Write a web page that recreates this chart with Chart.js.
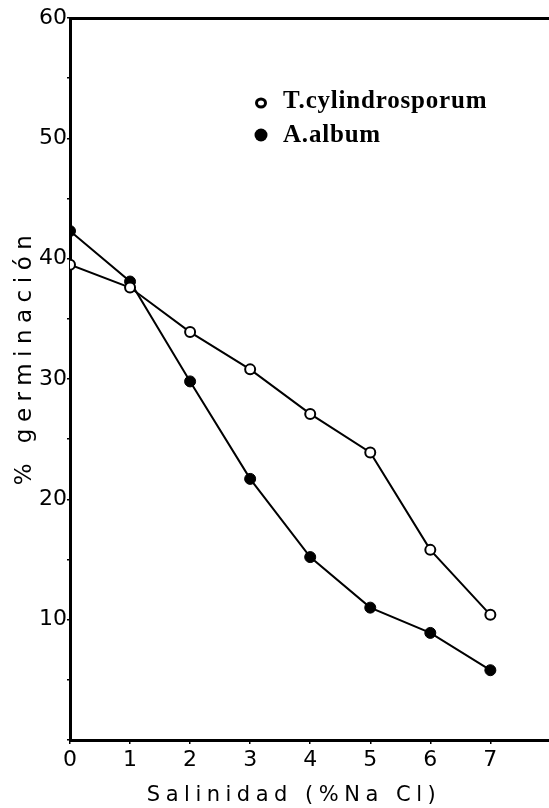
<!DOCTYPE html>
<html>
<head>
<meta charset="utf-8">
<script src="https://cdn.jsdelivr.net/npm/chart.js@4.4.1/dist/chart.umd.min.js"></script>
<style>
	html, body { margin: 0; padding: 0; background: #fff; overflow: hidden; }
	#wrap { width: 549px; height: 808px; }
	canvas { display: block; }
</style>
</head>
<body>
<div id="wrap"><canvas id="germChart" width="549" height="808"></canvas></div>
<script>
// Data
const salinidad = [0, 1, 2, 3, 4, 5, 6, 7];
const tCylindrosporum = [39.5, 37.6, 33.9, 30.8, 27.1, 23.9, 15.8, 10.4];
const aAlbum = [42.3, 38.1, 29.8, 21.7, 15.2, 11.0, 8.9, 5.8];
const seriesLabels = ['T.cylindrosporum', 'A.album'];
const xTickValues = [0, 1, 2, 3, 4, 5, 6, 7];
const yTickValues = [0, 5, 10, 15, 20, 25, 30, 35, 40, 45, 50, 55, 60];
const yTickLabels = [10, 20, 30, 40, 50, 60];
const xTitle = 'Salinidad (%Na Cl)';
const yTitle = '% germinación';

(function() {
	'use strict';

	const tickFont = { family: 'DejaVu Sans', size: 22 };

	/**
	 * Frame lines running to the page edge, axis titles and the inset legend
	 */
	const figureDecor = {
		id: 'figureDecor',
		afterDatasetsDraw: function(chart) {
			const ctx = chart.ctx;
			const area = chart.chartArea;
			ctx.save();

			// top frame line and the tail of the x axis, out to the edge
			ctx.strokeStyle = '#000';
			ctx.lineWidth = 3;
			ctx.beginPath();
			ctx.moveTo(area.left - 1, Math.round(area.top) + 0.5);
			ctx.lineTo(chart.width, Math.round(area.top) + 0.5);
			ctx.moveTo(area.right - 2, Math.round(area.bottom) + 0.5);
			ctx.lineTo(chart.width, Math.round(area.bottom) + 0.5);
			ctx.stroke();

			// x title
			ctx.fillStyle = '#000';
			ctx.font = '21px "DejaVu Sans"';
			ctx.letterSpacing = '5.5px';
			ctx.textAlign = 'center';
			ctx.textBaseline = 'alphabetic';
			ctx.fillText(xTitle, 294, 801);

			// y title, reads bottom to top
			ctx.save();
			ctx.translate(31, 357);
			ctx.rotate(-Math.PI / 2);
			ctx.font = '23px "DejaVu Sans"';
			ctx.letterSpacing = '6.5px';
			ctx.fillText(yTitle, 0, 0);
			ctx.restore();

			// legend
			const rows = [
				{ label: seriesLabels[0], filled: false, cy: 103, base: 108 },
				{ label: seriesLabels[1], filled: true, cy: 135, base: 142 }
			];
			ctx.font = 'bold 25px "Liberation Serif"';
			ctx.letterSpacing = '0.8px';
			ctx.textAlign = 'left';
			rows.forEach(function(r) {
				ctx.beginPath();
				if (r.filled) {
					ctx.arc(261, r.cy, 6.5, 0, Math.PI * 2);
					ctx.fill();
				} else {
					ctx.lineWidth = 3;
					ctx.ellipse(261, r.cy, 4.5, 4, 0, 0, Math.PI * 2);
					ctx.stroke();
				}
				ctx.fillText(r.label, 283, r.base);
			});

			ctx.restore();
		}
	};

	new Chart(document.getElementById('germChart'), {
		type: 'line',
		data: {
			datasets: [{
				label: seriesLabels[0],
				data: salinidad.map((x, i) => ({ x: x, y: tCylindrosporum[i] })),
				borderColor: '#000',
				borderWidth: 2,
				pointRadius: 5,
				pointBorderWidth: 2,
				pointBackgroundColor: '#fff',
				pointBorderColor: '#000',
				tension: 0
			}, {
				label: seriesLabels[1],
				data: salinidad.map((x, i) => ({ x: x, y: aAlbum[i] })),
				borderColor: '#000',
				borderWidth: 2,
				pointRadius: 5.5,
				pointBorderWidth: 1,
				pointBackgroundColor: '#000',
				pointBorderColor: '#000',
				tension: 0
			}]
		},
		options: {
			responsive: false,
			animation: false,
			devicePixelRatio: 1,
			layout: { padding: { top: 18, right: 0, left: 0, bottom: 0 } },
			plugins: {
				legend: { display: false },
				tooltip: { enabled: false }
			},
			scales: {
				x: {
					type: 'linear',
					min: 0,
					max: 7.86,
					afterFit: function(scale) {
						scale.height = 68;
						scale.paddingLeft = 0;
						scale.paddingRight = 0;
					},
					afterBuildTicks: function(scale) {
						scale.ticks = xTickValues.map(v => ({ value: v }));
					},
					border: { display: true, color: '#000', width: 3 },
					grid: { drawOnChartArea: false, drawTicks: true, tickLength: 4, color: '#000', lineWidth: 1.5 },
					ticks: {
						color: '#000',
						font: tickFont,
						padding: 3,
						maxRotation: 0,
						autoSkip: false
					}
				},
				y: {
					min: 0,
					max: 60,
					afterFit: function(scale) {
						scale.width = 70;
						scale.paddingTop = 0;
						scale.paddingBottom = 0;
					},
					afterBuildTicks: function(scale) {
						scale.ticks = yTickValues.map(v => ({ value: v }));
					},
					border: { display: true, color: '#000', width: 3 },
					grid: { drawOnChartArea: false, drawTicks: true, tickLength: 3, color: '#000', lineWidth: 1.5 },
					ticks: {
						color: '#000',
						font: tickFont,
						padding: 0,
						autoSkip: false,
						callback: function(value) {
							return yTickLabels.includes(value) ? String(value) : '';
						}
					}
				}
			}
		},
		plugins: [figureDecor]
	});
})();
</script>
</body>
</html>
